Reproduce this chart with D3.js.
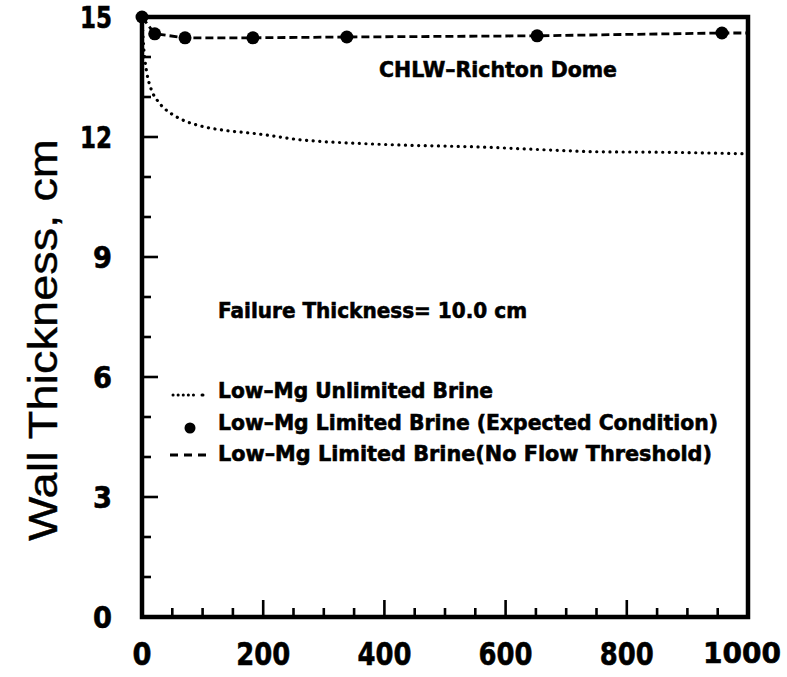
<!DOCTYPE html>
<html><head><meta charset="utf-8">
<script src="https://cdn.jsdelivr.net/npm/d3@7"></script>
<style>body{margin:0;background:#fff}svg{display:block}</style>
</head><body><svg id="c" width="787" height="677"></svg>
<script>
// Data (years vs wall thickness, cm)
const unlimitedX = [0, 1, 3, 5, 8, 15, 26, 38, 55, 71, 104, 145, 178, 195, 261, 343, 426, 558, 665, 756, 855, 1000];
const unlimitedY = [15, 14.7, 14.2, 13.9, 13.6, 13.2, 12.9, 12.7, 12.52, 12.4, 12.25, 12.15, 12.1, 12.07, 11.93, 11.85, 11.8, 11.75, 11.68, 11.63, 11.62, 11.58];
const expectedX = [0, 21, 71, 183, 338, 652, 957];
const expectedY = [15, 14.58, 14.48, 14.48, 14.5, 14.53, 14.6];
const noFlowX = [0, 21, 71, 183, 338, 652, 957, 1000];
const noFlowY = [15, 14.58, 14.48, 14.48, 14.5, 14.53, 14.6, 14.6];
const xTickLabels = [0, 200, 400, 600, 800, 1000];
const yTickLabels = [0, 3, 6, 9, 12, 15];
const legendLabels = ["Low\u2013Mg Unlimited Brine", "Low\u2013Mg Limited Brine (Expected Condition)", "Low\u2013Mg Limited Brine(No Flow Threshold)"];
const annotationTitle = "CHLW\u2013Richton Dome";
const annotationFailure = "Failure Thickness= 10.0 cm";
const yTitle = "Wall Thickness, cm";

const svg = d3.select("#c");
const L = 142, R = 748, T = 17, B = 617;
const x = d3.scaleLinear().domain([0, 1000]).range([L, R]);
const y = d3.scaleLinear().domain([0, 15]).range([B, T]);
const font = "'DejaVu Sans', sans-serif";
const boldText = sel => sel.attr("font-family", font).attr("font-weight", "bold")
  .attr("stroke", "#000").attr("stroke-width", 0.6).attr("lengthAdjust", "spacingAndGlyphs");

// minor/major ticks
const gx = svg.append("g");
d3.range(50, 1000, 50).forEach(v => {
  const major = v % 200 === 0;
  gx.append("line").attr("x1", x(v)).attr("x2", x(v)).attr("y1", B).attr("y2", B - (major ? 17 : 9))
    .attr("stroke", "#000").attr("stroke-width", 2.6);
});
d3.range(1, 15, 1).forEach(v => {
  const major = v % 3 === 0;
  gx.append("line").attr("y1", y(v)).attr("y2", y(v)).attr("x1", L).attr("x2", L + (major ? 16 : 9))
    .attr("stroke", "#000").attr("stroke-width", 2.6);
});

// frame
svg.append("path").attr("d", `M${L},${T}H${R}V${B}H${L}Z`).attr("fill", "none").attr("stroke", "#000").attr("stroke-width", 4.5);

// tick labels
const xl = svg.append("g");
xl.selectAll("text").data(xTickLabels.filter(d => d !== 1000)).join("text")
  .attr("x", d => x(d)).attr("y", 665).attr("text-anchor", "middle")
  .attr("font-size", 32).attr("textLength", d => d === 0 ? 19 : 54).call(boldText).text(d => d);
xl.append("text").attr("x", x(1000) - 6).attr("y", 663).attr("text-anchor", "middle")
  .attr("font-size", 28).attr("font-family", font).attr("font-weight", "bold")
  .attr("stroke", "#000").attr("stroke-width", 0.6).text(xTickLabels[5]);
svg.append("g").selectAll("text").data(yTickLabels).join("text")
  .attr("x", 112).attr("y", d => y(d) + 11).attr("text-anchor", "end")
  .attr("font-size", 30).attr("textLength", d => d >= 10 ? 32 : 19).call(boldText).text(d => d);

// y title
svg.append("text").attr("transform", "translate(57,340) rotate(-90)").attr("text-anchor", "middle")
  .attr("font-family", "'Liberation Sans', Arial, sans-serif").attr("font-size", 41)
  .attr("stroke", "#000").attr("stroke-width", 0.4)
  .attr("textLength", 402).attr("lengthAdjust", "spacingAndGlyphs").text(yTitle);

// series
const lineGen = d3.line().x(d => x(d[0])).y(d => y(d[1]));
const lineMono = d3.line().x(d => x(d[0])).y(d => y(d[1])).curve(d3.curveMonotoneX);
svg.append("path").attr("d", lineMono(unlimitedX.map((v, i) => [v, unlimitedY[i]])))
  .attr("fill", "none").attr("stroke", "#000").attr("stroke-width", 3.2)
  .attr("stroke-dasharray", "0.1 6.5").attr("stroke-linecap", "round");
svg.append("path").attr("d", lineGen(noFlowX.map((v, i) => [v, noFlowY[i]])))
  .attr("fill", "none").attr("stroke", "#000").attr("stroke-width", 2.8)
  .attr("stroke-dasharray", "8 4");
svg.append("g").selectAll("circle").data(expectedX.map((v, i) => [v, expectedY[i]])).join("circle")
  .attr("cx", d => x(d[0])).attr("cy", d => y(d[1])).attr("r", 6.5).attr("fill", "#000");

// annotations
svg.append("text").attr("x", 379).attr("y", 77).attr("font-size", 22)
  .attr("textLength", 238).call(boldText).text(annotationTitle);
svg.append("text").attr("x", 218).attr("y", 318).attr("font-size", 21)
  .attr("textLength", 309).call(boldText).text(annotationFailure);

// legend
const legY = [398, 430, 461];
const legW = [275, 500, 494];
legendLabels.forEach((t, i) => {
  svg.append("text").attr("x", 218).attr("y", legY[i]).attr("font-size", 21)
    .attr("textLength", legW[i]).call(boldText).text(t);
});
svg.append("line").attr("x1", 173).attr("x2", 195).attr("y1", legY[0] - 3).attr("y2", legY[0] - 3)
  .attr("stroke", "#000").attr("stroke-width", 3).attr("stroke-dasharray", "0.1 5").attr("stroke-linecap", "round");
svg.append("line").attr("x1", 202).attr("x2", 203).attr("y1", legY[0] - 3).attr("y2", legY[0] - 3)
  .attr("stroke", "#000").attr("stroke-width", 3).attr("stroke-linecap", "round");
svg.append("circle").attr("cx", 190).attr("cy", legY[1] - 2).attr("r", 5.5).attr("fill", "#000");
svg.append("line").attr("x1", 170).attr("x2", 206).attr("y1", legY[2] - 6).attr("y2", legY[2] - 6)
  .attr("stroke", "#000").attr("stroke-width", 2.8).attr("stroke-dasharray", "8 6");
</script></body></html>
